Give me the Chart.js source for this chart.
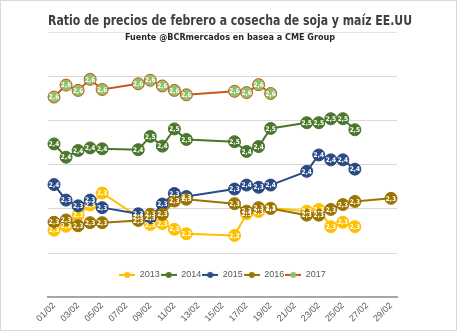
<!DOCTYPE html>
<html>
<head>
<meta charset="utf-8">
<script src="https://cdn.jsdelivr.net/npm/chart.js@4"></script>
<style>
html,body{margin:0;padding:0;background:#fff;}
canvas{display:block;}
</style>
</head>
<body>
<canvas id="c" width="457" height="331"></canvas>
<script>
// ---- data ----
const dayLabels = ['01/02','02/02','03/02','04/02','05/02','06/02','07/02','08/02','09/02','10/02',
  '11/02','12/02','13/02','14/02','15/02','16/02','17/02','18/02','19/02','20/02',
  '21/02','22/02','23/02','24/02','25/02','26/02','27/02','28/02','29/02'];
const tradingDays = [1,2,3,4,5,8,9,10,11,12,16,17,18,19,22,23,24,25,26,29];
const years = ['2013','2014','2015','2016','2017'];
const values2013 = [2.252,2.261,2.286,2.309,2.336,2.282,2.265,2.267,2.254,2.244,2.240,2.289,2.294,2.302,2.295,2.299,2.260,2.270,2.260];
const values2014 = [2.447,2.417,2.432,2.438,2.436,2.434,2.464,2.442,2.481,2.457,2.452,2.430,2.441,2.482,2.495,2.495,2.504,2.504,2.479];
const values2015 = [2.355,2.320,2.307,2.320,2.303,2.289,2.280,2.311,2.335,2.328,2.345,2.354,2.349,2.354,2.385,2.422,2.411,2.411,2.390];
const values2016 = [2.270,2.275,2.262,2.269,2.269,2.274,2.288,2.288,2.318,2.322,2.312,2.295,2.303,2.301,2.286,2.286,2.299,2.310,2.317,2.324];
const values2017 = [2.553,2.580,2.568,2.593,2.570,2.583,2.591,2.578,2.568,2.558,2.566,2.563,2.581,2.561];
const titleText = 'Ratio de precios de febrero a cosecha de soja y maíz EE.UU';
const subtitleText = 'Fuente @BCRmercados en basea a CME Group';

// ---- styles ----
const condensed = '"DejaVu Sans Condensed", "Liberation Sans", sans-serif';
const lineColors  = ['#FFC000','#4A772B','#294A84','#9B7500','#C8581A'];
const pointColors = ['#FFC000','#4A772B','#294A84','#9B7500','#8DC16A'];
const seriesValues = [values2013, values2014, values2015, values2016, values2017];

function legendIcon(line, dot) {
  const c = document.createElement('canvas');
  c.width = 16; c.height = 8;
  const g = c.getContext('2d');
  g.strokeStyle = line; g.lineWidth = 2;
  g.beginPath(); g.moveTo(0, 4); g.lineTo(16, 4); g.stroke();
  g.fillStyle = dot;
  g.beginPath(); g.arc(8, 4, 3, 0, Math.PI * 2); g.fill();
  return c;
}
const legendIcons = years.map((y, i) => legendIcon(lineColors[i], pointColors[i]));

const datasets = years.map((y, i) => ({
  label: y,
  data: seriesValues[i].map((v, j) => ({x: dayLabels[tradingDays[j] - 1], y: v})),
  borderColor: lineColors[i],
  backgroundColor: pointColors[i],
  pointBackgroundColor: pointColors[i],
  pointBorderColor: lineColors[i],
  pointBorderWidth: 1,
  pointRadius: 6,
  pointHoverRadius: 6,
  borderWidth: 2,
  tension: 0,
  clip: false,
  order: years.length - i
}));

const framePlugin = {
  id: 'frame',
  beforeDraw(chart) {
    const {ctx, width, height} = chart;
    ctx.save();
    ctx.fillStyle = '#fff';
    ctx.fillRect(0, 0, width, height);
    ctx.strokeStyle = '#d9d9d9';
    ctx.lineWidth = 1;
    ctx.strokeRect(0.5, 0.5, width - 1, height - 1);
    const t = chart.titleBlock, a = chart.chartArea;
    if (t) {
      const y = Math.round(t.bottom) - 0.5;
      ctx.strokeStyle = '#e3e3e3';
      ctx.beginPath(); ctx.moveTo(a.left, y); ctx.lineTo(a.right, y); ctx.stroke();
    }
    ctx.restore();
  }
};

const legendInside = {
  id: 'legendInside',
  afterLayout(chart) {
    const lg = chart.legend, a = chart.chartArea;
    if (!lg) return;
    lg.top = a.bottom - 28;
    lg.bottom = lg.top + 20;
    lg.height = 20;
  }
};

const pointLabels = {
  id: 'pointLabels',
  afterDatasetsDraw(chart) {
    const ctx = chart.ctx;
    ctx.save();
    ctx.font = 'bold 6.5px ' + condensed;
    ctx.fillStyle = '#ffffff';
    ctx.textAlign = 'center';
    ctx.textBaseline = 'middle';
    chart.data.datasets.forEach((ds, i) => {
      const meta = chart.getDatasetMeta(i);
      meta.data.forEach((el, j) => {
        const v = ds.data[j].y;
        ctx.fillText(v.toFixed(1).replace('.', ','), el.x, el.y + 0.5);
      });
    });
    ctx.restore();
  }
};

new Chart(document.getElementById('c'), {
  type: 'line',
  data: { labels: dayLabels, datasets },
  plugins: [framePlugin, legendInside, pointLabels],
  options: {
    responsive: false,
    devicePixelRatio: 1,
    animation: false,
    layout: { padding: { left: 48, right: 45, top: 0, bottom: 4 } },
    scales: {
      x: {
        type: 'category',
        offset: true,
        grid: { display: false, drawTicks: false },
        border: { display: true, color: '#a6a6a6', width: 2 },
        ticks: {
          autoSkip: false,
          minRotation: 45,
          maxRotation: 45,
          padding: 3,
          color: '#595959',
          font: { family: 'Liberation Sans', size: 9 },
          callback: function(value, index) {
            return index % 2 === 0 ? this.getLabelForValue(value) : '';
          }
        }
      },
      y: {
        position: 'right',
        min: 2.1,
        max: 2.6,
        ticks: { display: false, stepSize: 0.1 },
        grid: { color: '#d9d9d9', lineWidth: 1, drawTicks: false },
        border: { display: false },
        afterFit: (s) => { s.width = 15; }
      }
    },
    plugins: {
      title: {
        display: true,
        text: titleText,
        color: '#404040',
        font: { family: condensed, weight: 'bold', size: 13.2 },
        padding: { top: 13.8, bottom: 3 }
      },
      subtitle: {
        display: true,
        text: subtitleText,
        color: '#262626',
        font: { family: condensed, weight: 'bold', size: 9 },
        padding: { top: 0, bottom: 32.8 }
      },
      legend: {
        display: true,
        position: 'bottom',
        fullSize: false,
        maxHeight: 0.01,
        labels: {
          usePointStyle: true,
          pointStyleWidth: 16,
          padding: 1,
          color: '#595959',
          font: { family: 'Liberation Sans', size: 9 },
          sort: (a, b) => a.datasetIndex - b.datasetIndex,
          generateLabels: (chart) => {
            const items = Chart.defaults.plugins.legend.labels.generateLabels(chart);
            items.forEach(it => { it.pointStyle = legendIcons[it.datasetIndex]; it.fontColor = '#595959'; });
            return items;
          }
        }
      },
      tooltip: { enabled: false }
    }
  }
});
</script>
</body>
</html>
